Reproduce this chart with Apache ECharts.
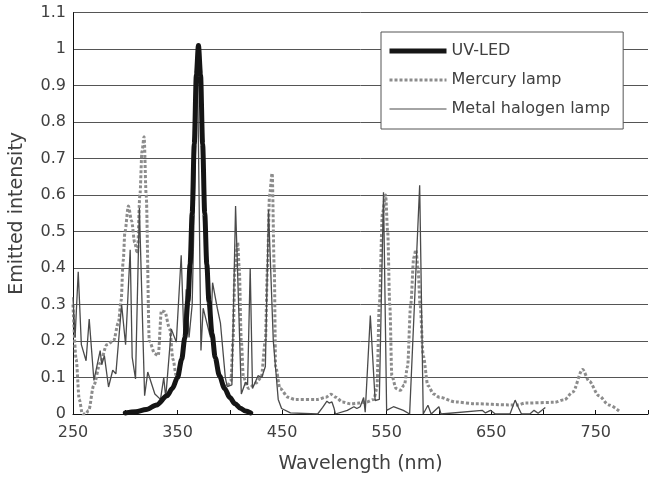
<!DOCTYPE html>
<html>
<head>
<meta charset="utf-8">
<script src="https://cdn.jsdelivr.net/npm/echarts@6/dist/echarts.min.js"></script>
<style>
html,body{margin:0;padding:0;background:#fff;}
#chart{width:651px;height:479px;}
</style>
</head>
<body>
<div id="chart"></div>
<script>
// ---- Data ----
const seriesNames = ['UV-LED', 'Mercury lamp', 'Metal halogen lamp'];

const ledWavelength = [300, 310, 320, 330, 340, 345, 350, 354, 357, 360, 362, 364, 366, 368, 370, 372, 374, 376, 378, 380, 383, 386, 390, 395, 400, 405, 410, 415, 420];
const ledIntensity  = [0.003, 0.006, 0.012, 0.025, 0.05, 0.07, 0.1, 0.15, 0.21, 0.31, 0.41, 0.55, 0.74, 0.93, 1.01, 0.93, 0.74, 0.55, 0.41, 0.31, 0.22, 0.155, 0.105, 0.07, 0.045, 0.028, 0.016, 0.008, 0.003];

const mercuryWavelength = [250, 253, 256, 259, 262, 265, 269.8, 276, 282.4, 288.7, 293.4, 296, 298, 299.7, 303, 306, 309, 311.6, 314, 316, 318, 320, 323, 328.3, 331.5, 334.6, 337.8, 342.5, 345.6, 348.8, 354, 357, 360, 362, 364, 366, 368, 370, 372, 374, 376, 378, 380, 383, 386, 390, 393, 397, 401, 403, 405, 407.5, 409, 411, 413, 418, 425, 430, 434, 436, 438, 440.5, 442.5, 443.8, 448, 455.8, 462, 484, 492, 496.6, 501.4, 507.7, 515.5, 523.5, 531, 537.6, 540.7, 543, 546, 549, 551, 553, 555, 559, 563, 567, 570, 573, 576, 578, 580, 582, 585, 589.5, 595, 600.5, 616, 635, 666.6, 676, 682.3, 710.6, 720, 728, 737.4, 743.7, 753, 762.5, 773.6];
const mercuryIntensity  = [0.3, 0.15, 0.04, 0.0, 0.0, 0.01, 0.078, 0.14, 0.19, 0.2, 0.25, 0.31, 0.42, 0.5, 0.57, 0.53, 0.47, 0.44, 0.6, 0.72, 0.76, 0.6, 0.2, 0.165, 0.16, 0.283, 0.28, 0.233, 0.15, 0.105, 0.15, 0.21, 0.31, 0.41, 0.55, 0.74, 0.93, 1.0, 0.93, 0.74, 0.55, 0.41, 0.31, 0.22, 0.155, 0.105, 0.08, 0.075, 0.09, 0.2, 0.4, 0.47, 0.4, 0.2, 0.1, 0.07, 0.085, 0.1, 0.2, 0.4, 0.6, 0.66, 0.4, 0.13, 0.07, 0.046, 0.04, 0.04, 0.046, 0.054, 0.046, 0.033, 0.028, 0.03, 0.033, 0.04, 0.07, 0.3, 0.55, 0.6, 0.5, 0.3, 0.105, 0.07, 0.065, 0.08, 0.13, 0.3, 0.43, 0.45, 0.4, 0.3, 0.16, 0.078, 0.055, 0.046, 0.033, 0.028, 0.025, 0.025, 0.03, 0.032, 0.039, 0.06, 0.122, 0.09, 0.05, 0.025, 0.005];

const halogenWavelength = [250, 252, 255, 258, 262.5, 265.5, 270, 276, 277.5, 280, 284, 288, 291, 296.5, 300.3, 304.7, 306.6, 309.8, 313.5, 318.5, 321.5, 328.3, 333.7, 336.8, 338.7, 344, 348.8, 353.5, 356, 358.3, 361, 364, 369, 372.4, 374.5, 378, 381.5, 383.5, 388, 391, 395.7, 397.5, 402, 405.5, 411, 415, 417, 419.5, 421.7, 427, 430.5, 434, 437, 441.6, 446.3, 449.5, 458, 484, 488.8, 492.9, 495, 497.7, 499.8, 501, 512.4, 518.7, 521.5, 524.7, 528, 529.5, 534.4, 539, 543, 547, 550, 556.5, 566, 572, 581.6, 585, 589.5, 592.6, 600, 602, 641.4, 644.5, 649.3, 654, 668, 672.9, 676, 679, 687, 691, 694.9, 701.8];
const halogenIntensity  = [0.32, 0.21, 0.39, 0.19, 0.146, 0.26, 0.092, 0.174, 0.135, 0.16, 0.074, 0.12, 0.11, 0.3, 0.19, 0.45, 0.156, 0.096, 0.565, 0.05, 0.115, 0.055, 0.04, 0.1, 0.045, 0.233, 0.197, 0.435, 0.22, 0.342, 0.21, 0.3, 0.97, 0.174, 0.29, 0.25, 0.21, 0.36, 0.29, 0.25, 0.1, 0.075, 0.08, 0.57, 0.055, 0.087, 0.08, 0.4, 0.07, 0.105, 0.1, 0.13, 0.56, 0.2, 0.04, 0.015, 0.003, 0.0, 0.018, 0.035, 0.03, 0.033, 0.015, 0.0, 0.01, 0.02, 0.015, 0.02, 0.045, 0.005, 0.27, 0.037, 0.04, 0.608, 0.01, 0.02, 0.01, 0.0, 0.627, 0.0, 0.024, 0.0, 0.02, 0.0, 0.01, 0.003, 0.01, 0.0, 0.0, 0.038, 0.018, 0.0, 0.0, 0.01, 0.002, 0.018];

const xTickLabels = ['250', '350', '450', '550', '650', '750'];
const yTickLabels = ['0', '0.1', '0.2', '0.3', '0.4', '0.5', '0.6', '0.7', '0.8', '0.9', '1', '1.1'];

const xTitle = 'Wavelength (nm)';
const yTitle = 'Emitted intensity';

// ---- Build ----
function pairs(xs, ys) { return xs.map((x, i) => [x, ys[i]]); }

const FONT = 'DejaVu Sans';
const TXT = '#404040';

const ledStyle = {color: '#151515', width: 5, cap: 'round', join: 'round'};
const mercuryStyle = {color: '#8c8c8c', width: 3, type: [3, 2], cap: 'butt'};
const halogenStyle = {color: '#4a4a4a', width: 1.3};

const chart = echarts.init(document.getElementById('chart'), null, {renderer: 'canvas'});
chart.setOption({
  animation: false,
  backgroundColor: '#fff',
  textStyle: {fontFamily: FONT},
  grid: {left: 72, right: -4, top: 12.7, bottom: 63.7, containLabel: false},
  legend: {
    orient: 'vertical',
    left: 381, top: 32,
    data: [
      {name: seriesNames[0], lineStyle: {width: 5, color: '#151515', cap: 'butt'}},
      {name: seriesNames[1], lineStyle: {width: 3, color: '#8c8c8c', type: [3, 2], cap: 'butt'}},
      {name: seriesNames[2], lineStyle: {width: 1.2, color: '#4a4a4a'}}
    ],
    backgroundColor: '#fff',
    borderColor: '#555',
    borderWidth: 1,
    padding: [10, 13, 11, 6],
    itemWidth: 57,
    itemHeight: 16,
    itemGap: 11,
    itemStyle: {opacity: 0, color: 'transparent', borderWidth: 0},
    textStyle: {fontFamily: FONT, fontSize: 16, color: TXT, lineHeight: 18}
  },
  xAxis: {
    type: 'value',
    min: 250, max: 800, interval: 50,
    name: xTitle,
    nameLocation: 'middle',
    nameGap: 41,
    nameTextStyle: {fontFamily: FONT, fontSize: 19, color: TXT},
    axisLine: {show: true, lineStyle: {color: '#111', width: 1}},
    axisTick: {show: true, inside: true, length: 4, lineStyle: {color: '#111'}},
    splitLine: {show: false},
    axisLabel: {
      fontFamily: FONT, fontSize: 16, color: TXT, margin: 11,
      formatter: v => xTickLabels.indexOf(String(v)) >= 0 ? String(v) : ''
    }
  },
  yAxis: {
    type: 'value',
    min: 0, max: 1.1, interval: 0.1,
    name: yTitle,
    nameLocation: 'middle',
    nameGap: 46,
    nameTextStyle: {fontFamily: FONT, fontSize: 19, color: TXT},
    axisLine: {show: true, lineStyle: {color: '#111', width: 1}},
    axisTick: {show: false},
    splitLine: {show: true, lineStyle: {color: '#555', width: 1}},
    axisLabel: {
      fontFamily: FONT, fontSize: 16, color: TXT, margin: 7,
      formatter: v => yTickLabels[Math.round(v * 10)]
    }
  },
  series: [
    {
      name: seriesNames[1], type: 'line', symbol: 'none', smooth: 0.3, smoothMonotone: 'x',
      data: pairs(mercuryWavelength, mercuryIntensity),
      lineStyle: mercuryStyle,
      itemStyle: {color: '#8c8c8c'}, z: 2
    },
    {
      name: seriesNames[2], type: 'line', symbol: 'none',
      data: pairs(halogenWavelength, halogenIntensity),
      lineStyle: halogenStyle,
      itemStyle: {color: '#4a4a4a'}, z: 3
    },
    {
      name: seriesNames[0], type: 'line', symbol: 'none', smooth: 0.3, smoothMonotone: 'x',
      data: pairs(ledWavelength, ledIntensity),
      lineStyle: ledStyle,
      itemStyle: {color: '#151515'}, z: 4
    }
  ]
});
</script>
</body>
</html>
